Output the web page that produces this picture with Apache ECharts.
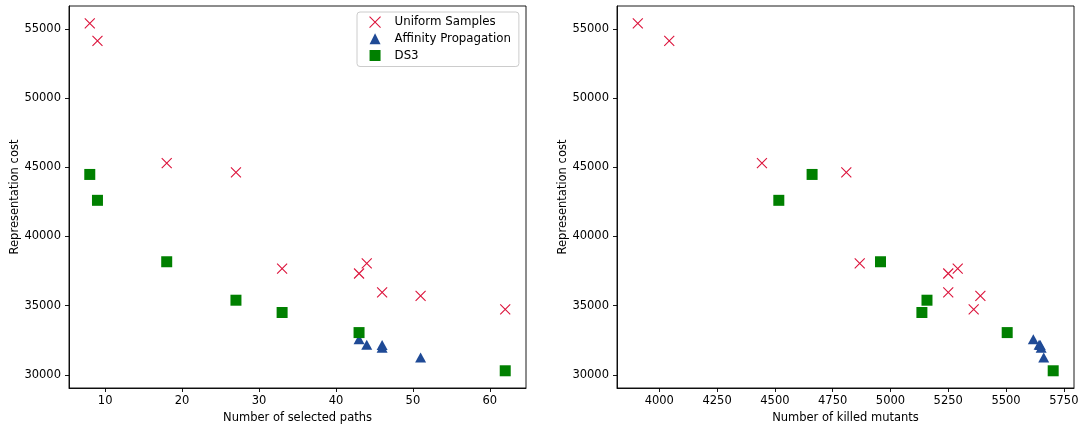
<!DOCTYPE html>
<html>
<head>
<meta charset="utf-8">
<script src="https://cdn.jsdelivr.net/npm/echarts@6/dist/echarts.min.js"></script>
<style>
html,body{margin:0;padding:0;background:#fff;}
#chart{width:1081px;height:424px;}
</style>
</head>
<body>
<div id="chart"></div>
<script>
// ---- data ----
const seriesNames = ['Uniform Samples', 'Affinity Propagation', 'DS3'];

const uniformPaths   = [8, 9, 18, 27, 33, 43, 44, 46, 51, 62];
const uniformMutants = [3907, 4043, 4444, 4809, 5291, 5250, 4867, 5250, 5389, 5360];
const uniformCost    = [55400, 54130, 45300, 44630, 37670, 37320, 38060, 35950, 35700, 34730];

const affinityPaths   = [43, 44, 46, 46, 51];
const affinityMutants = [5618, 5643, 5648, 5652, 5663];
const affinityCost    = [32560, 32170, 32150, 31950, 31250];

const ds3Paths   = [8, 9, 18, 27, 33, 43, 62];
const ds3Mutants = [4661, 4517, 4957, 5158, 5136, 5505, 5704];
const ds3Cost    = [44480, 42610, 38170, 35390, 34500, 33050, 30290];

const pathTicks   = [10, 20, 30, 40, 50, 60];
const mutantTicks = [4000, 4250, 4500, 4750, 5000, 5250, 5500, 5750];
const costTicks   = [30000, 35000, 40000, 45000, 50000, 55000];

const xNameLeft  = 'Number of selected paths';
const xNameRight = 'Number of killed mutants';
const yName      = 'Representation cost';

// ---- styles ----
const FONT = 'DejaVu Sans';
const RED = '#dc143c', BLUE = '#1f4a96', GREEN = '#008000';
const CROSS = 'path://M0,0L100,100M100,0L0,100';
const plain = v => String(v);

function zip(xs, ys) { return xs.map((x, i) => [x, ys[i]]); }

function xAxis(gridIndex, min, max, ticks, name) {
  return {
    type: 'value', gridIndex, min, max, name,
    nameLocation: 'middle', nameGap: 17,
    nameTextStyle: { fontFamily: FONT, fontSize: 11.5, color: '#000' },
    splitLine: { show: false },
    axisLine: { show: true, lineStyle: { color: '#000', width: 0.9 } },
    axisTick: { show: true, length: 4, lineStyle: { color: '#000', width: 0.9 }, customValues: ticks },
    axisLabel: { fontFamily: FONT, fontSize: 11.5, color: '#000', margin: 7, customValues: ticks, formatter: plain }
  };
}
function yAxis(gridIndex) {
  return {
    type: 'value', gridIndex, min: 29045, max: 56655, name: yName,
    nameLocation: 'middle', nameGap: 48, nameRotate: 90,
    nameTextStyle: { fontFamily: FONT, fontSize: 11.5, color: '#000' },
    splitLine: { show: false },
    axisLine: { show: true, lineStyle: { color: '#000', width: 0.9 } },
    axisTick: { show: true, length: 4, lineStyle: { color: '#000', width: 0.9 }, customValues: costTicks },
    axisLabel: { fontFamily: FONT, fontSize: 11.5, color: '#000', margin: 8, customValues: costTicks, formatter: plain }
  };
}
function seriesFor(idx, xsU, xsA, xsD) {
  return [
    { name: seriesNames[0], type: 'scatter', xAxisIndex: idx, yAxisIndex: idx,
      symbol: CROSS, symbolSize: 10, data: zip(xsU, uniformCost),
      itemStyle: { color: RED, borderColor: RED, borderWidth: 1.1, opacity: 1 }, emphasis: { disabled: true } },
    { name: seriesNames[1], type: 'scatter', xAxisIndex: idx, yAxisIndex: idx,
      symbol: 'triangle', symbolSize: [11, 10], data: zip(xsA, affinityCost),
      itemStyle: { color: BLUE, opacity: 1 }, emphasis: { disabled: true } },
    { name: seriesNames[2], type: 'scatter', xAxisIndex: idx, yAxisIndex: idx,
      symbol: 'rect', symbolSize: 11, data: zip(xsD, ds3Cost),
      itemStyle: { color: GREEN, opacity: 1 }, emphasis: { disabled: true } }
  ];
}

const chart = echarts.init(document.getElementById('chart'), null, { renderer: 'canvas' });
chart.setOption({
  animation: false,
  backgroundColor: '#fff',
  textStyle: { fontFamily: FONT },
  grid: [
    { left: 69, top: 6, width: 457, height: 382, containLabel: false, outerBoundsMode: 'none',
      show: true, borderColor: '#000', borderWidth: 0.9 },
    { left: 617, top: 6, width: 457, height: 382, containLabel: false, outerBoundsMode: 'none',
      show: true, borderColor: '#000', borderWidth: 0.9 }
  ],
  xAxis: [
    xAxis(0, 5.3, 64.7, pathTicks, xNameLeft),
    xAxis(1, 3817, 5794, mutantTicks, xNameRight)
  ],
  yAxis: [yAxis(0), yAxis(1)],
  legend: {
    data: [
      { name: seriesNames[0], icon: CROSS, itemStyle: { color: RED, borderColor: RED, borderWidth: 1.1, opacity: 1 } },
      { name: seriesNames[1], icon: 'triangle', itemStyle: { color: BLUE, opacity: 1 } },
      { name: seriesNames[2], icon: 'rect', itemStyle: { color: GREEN, opacity: 1 } }
    ],
    orient: 'vertical', left: 357, top: 12,
    itemWidth: 11, itemHeight: 11, itemGap: 4.7,
    padding: [4, 8, 5, 12],
    borderColor: '#cccccc', borderWidth: 1, borderRadius: 3, backgroundColor: '#fff',
    textStyle: { fontFamily: FONT, fontSize: 11.8, color: '#000', padding: [0, 0, 0, 9] },
    selectedMode: false
  },
  series: [
    ...seriesFor(0, uniformPaths, affinityPaths, ds3Paths),
    ...seriesFor(1, uniformMutants, affinityMutants, ds3Mutants)
  ]
});
</script>
</body>
</html>
